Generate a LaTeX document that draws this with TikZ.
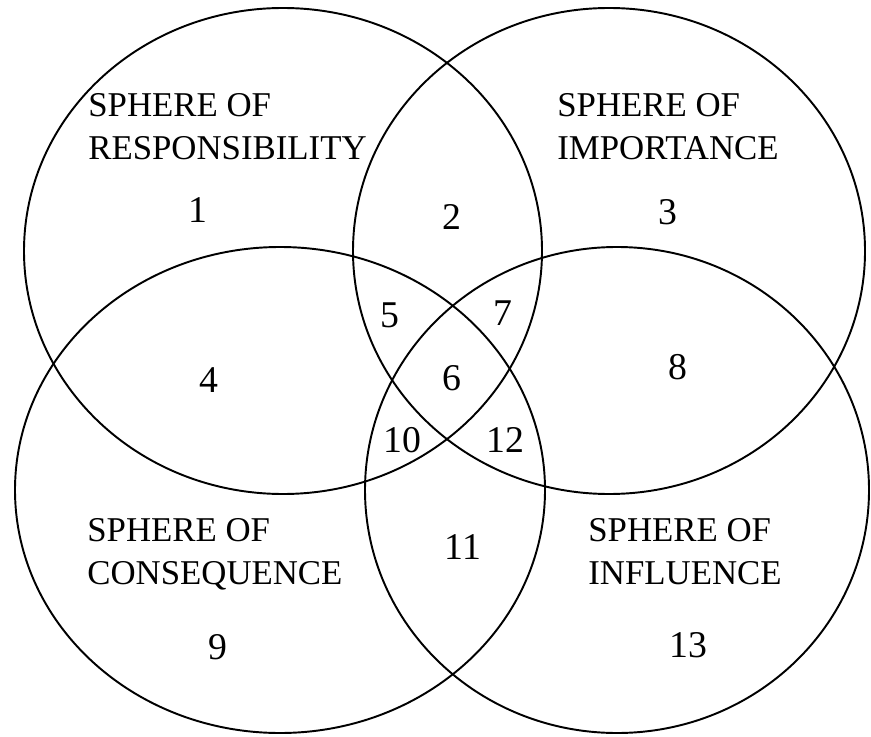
\documentclass[tikz,border=0pt]{standalone}
\usepackage{fontspec}
\setmainfont{Liberation Serif}
\usetikzlibrary{positioning}
\tikzset{
  sphere/.style={draw=black, line width=1.1pt},
  lbl/.style={anchor=north west, inner sep=0pt, align=left,
              font=\fontsize{19.8}{24.5}\selectfont},
  num/.style={inner sep=0pt, font=\fontsize{21.5}{24}\selectfont},
}
\begin{document}
\begin{tikzpicture}[x=0.02cm, y=-0.02cm]
  \useasboundingbox (0,0) rectangle (871,736);
  % the four spheres
  \draw[sphere] (283,251) ellipse [x radius=259, y radius=243];
  \draw[sphere] (609,251) ellipse [x radius=256, y radius=243];
  \draw[sphere] (280,490) ellipse [x radius=265, y radius=243];
  \draw[sphere] (617,490) ellipse [x radius=252, y radius=243];
  % names
  \node[lbl] (resp) at (88,93)  {SPHERE OF\\RESPONSIBILITY};
  \node[lbl] (imp)  at (557,93) {SPHERE OF\\IMPORTANCE};
  \node[lbl] (cons) at (87,518) {SPHERE OF\\CONSEQUENCE};
  \node[lbl] (infl) at (588,518){SPHERE OF\\INFLUENCE};
  % regions
  \foreach \n/\x/\y in {1/198/210, 2/452/217, 3/668/212, 4/209/380,
                        5/390/315, 6/452/378, 7/503/313, 8/678/367,
                        9/218/647, 10/402/440, 11/463/547, 12/505/440,
                        13/688/645}
    \node[num] (r\n) at (\x,\y) {\n};
\end{tikzpicture}
\end{document}
